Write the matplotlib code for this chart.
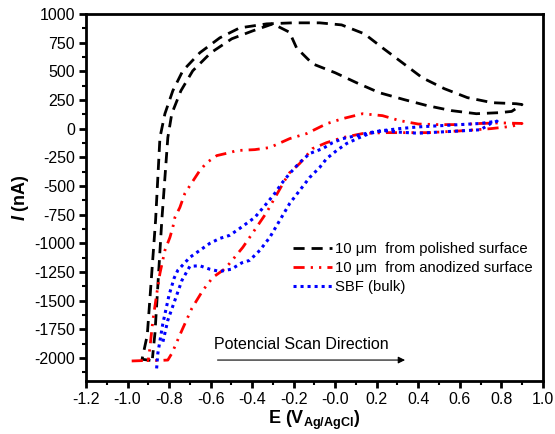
import matplotlib
matplotlib.use("Agg")
import matplotlib.pyplot as plt
import numpy as np
from matplotlib.ticker import MultipleLocator

plt.rcParams['font.family'] = ['Liberation Sans', 'DejaVu Sans']
plt.rcParams['mathtext.fontset'] = 'custom'
plt.rcParams['mathtext.rm'] = 'Liberation Sans'
plt.rcParams['mathtext.it'] = 'Liberation Sans:italic'
plt.rcParams['mathtext.bf'] = 'Liberation Sans:bold'
plt.rcParams['mathtext.bfit'] = 'Liberation Sans:italic:bold'

# Polished surface (black dashed) - closed CV loop
pol_E = [-0.89, -0.93, -0.905, -0.885, -0.865, -0.844, -0.82, -0.782, -0.734, -0.652,
         -0.556, -0.46, -0.33, -0.205, -0.075, 0.031, 0.141, 0.228, 0.324, 0.42,
         0.526, 0.637, 0.757, 0.872, 0.90, 0.85, 0.79, 0.68, 0.56, 0.444,
         0.334, 0.213, 0.103, 0.0, -0.109, -0.186, -0.22, -0.30, -0.397, -0.498,
         -0.599, -0.686, -0.743, -0.787, -0.806, -0.835, -0.868, -0.88]
pol_I = [-2020, -2010, -1800, -1300, -800, -78, 130, 330, 504, 661,
         791, 878, 913, 922, 922, 904, 826, 704, 574, 443,
         348, 270, 226, 217, 210, 150, 139, 130, 157, 200,
         252, 313, 400, 487, 565, 704, 840, 913, 852, 783,
         661, 504, 330, 130, -78, -800, -1783, -2000]

# Anodized surface (red dash-dot-dot)
ano_E = [-0.98, -0.90, -0.892, -0.878, -0.859, -0.844, -0.82, -0.796, -0.782, -0.772,
         -0.748, -0.724, -0.69, -0.652, -0.618, -0.57, -0.508, -0.474, -0.387, -0.315,
         -0.219, -0.137, -0.041, 0.036, 0.132, 0.228, 0.31, 0.40, 0.50, 0.60,
         0.70, 0.80, 0.90, 0.85, 0.75, 0.60, 0.45, 0.30, 0.238, 0.132,
         0.036, -0.041, -0.109, -0.171, -0.219, -0.243, -0.306, -0.33, -0.412, -0.445,
         -0.508, -0.541, -0.589, -0.637, -0.69, -0.738, -0.786, -0.806, -0.84, -0.92]
ano_I = [-2025, -2020, -1904, -1670, -1435, -1261, -1061, -948, -861, -774,
         -687, -565, -470, -365, -296, -235, -209, -191, -183, -165,
         -87, -43, 43, 87, 130, 113, 70, 40, 35, 35,
         45, 50, 45, 20, 0, -20, -35, -35, -35, -43,
         -78, -122, -174, -304, -383, -452, -652, -730, -948, -1035,
         -1174, -1235, -1296, -1409, -1565, -1757, -1957, -2017, -2020, -2022]

# SBF bulk (blue dotted)
sbf_E = [-0.86, -0.854, -0.83, -0.80, -0.775, -0.758, -0.70, -0.652, -0.604, -0.556,
         -0.508, -0.46, -0.387, -0.33, -0.291, -0.258, -0.219, -0.171, -0.123, -0.06,
         -0.012, 0.036, 0.103, 0.165, 0.228, 0.31, 0.40, 0.50, 0.60, 0.70,
         0.78, 0.75, 0.70, 0.55, 0.40, 0.30, 0.228, 0.165, 0.117, 0.055,
         0.007, -0.041, -0.075, -0.123, -0.171, -0.219, -0.267, -0.315, -0.363, -0.412,
         -0.45, -0.50, -0.556, -0.604, -0.652, -0.70, -0.738, -0.772, -0.806, -0.83]
sbf_I = [-2090, -1957, -1700, -1450, -1300, -1235, -1122, -1061, -1000, -957,
         -930, -870, -774, -652, -565, -478, -391, -296, -217, -174,
         -122, -87, -61, -35, -17, 0, 15, 25, 35, 45,
         65, 45, -10, -25, -40, -30, -17, -43, -78, -130,
         -191, -261, -339, -426, -539, -652, -800, -948, -1061, -1148,
         -1170, -1225, -1245, -1225, -1195, -1200, -1322, -1496, -1670, -1861]

labels = ["10 \u03bcm  from polished surface",
          "10 \u03bcm  from anodized surface",
          "SBF (bulk)"]

x_ticks = np.arange(-1.2, 1.01, 0.2)
y_ticks = np.arange(-2000, 1001, 250)

fig = plt.figure(figsize=(5.55, 4.34), dpi=100)
ax = fig.add_axes([0.155, 0.122, 0.823, 0.846])

ax.plot(pol_E, pol_I, color='black', lw=2.0, dashes=(4, 2.5), label=labels[0])
ax.plot(ano_E, ano_I, color='red', lw=2.0, dashes=(4, 2.2, 0.8, 2.2, 0.8, 2.2), label=labels[1])
ax.plot(sbf_E, sbf_I, color='blue', lw=2.2, dashes=(1, 1.3), label=labels[2])

ax.set_xlim(-1.2, 1.0)
ax.set_ylim(-2200, 1000)
ax.set_xticks(x_ticks)
ax.set_xticklabels([f"{v:.1f}" for v in x_ticks])
ax.set_yticks(y_ticks)
ax.set_yticklabels([f"{int(v)}" for v in y_ticks])
ax.xaxis.set_minor_locator(MultipleLocator(0.1))
ax.yaxis.set_minor_locator(MultipleLocator(125))
ax.tick_params(which='major', direction='out', length=5, width=2, labelsize=11.5, pad=3)
ax.tick_params(which='minor', direction='out', length=3, width=1.5)
ax.tick_params(top=False, right=False)
for s in ax.spines.values():
    s.set_linewidth(2)

ax.set_xlabel(r"$\mathbf{E\ (V_{Ag/AgCl})}$", fontsize=13, labelpad=1)
ax.set_ylabel(r"$\boldsymbol{I}\ \mathbf{(nA)}$", fontsize=13, labelpad=2)

leg = ax.legend(loc='upper left', bbox_to_anchor=(0.44, 0.395), frameon=False,
                fontsize=10.7, handlelength=2.6, handletextpad=0.2, labelspacing=0.33,
                borderaxespad=0)

ax.annotate("", xy=(0.35, -2017), xytext=(-0.58, -2017),
            arrowprops=dict(arrowstyle='-|>', color='black', lw=0.8, mutation_scale=10))
ax.text(-0.585, -1880, "Potencial Scan Direction", fontsize=11.5, va='center', ha='left')

fig.savefig("out.png", dpi=100)
